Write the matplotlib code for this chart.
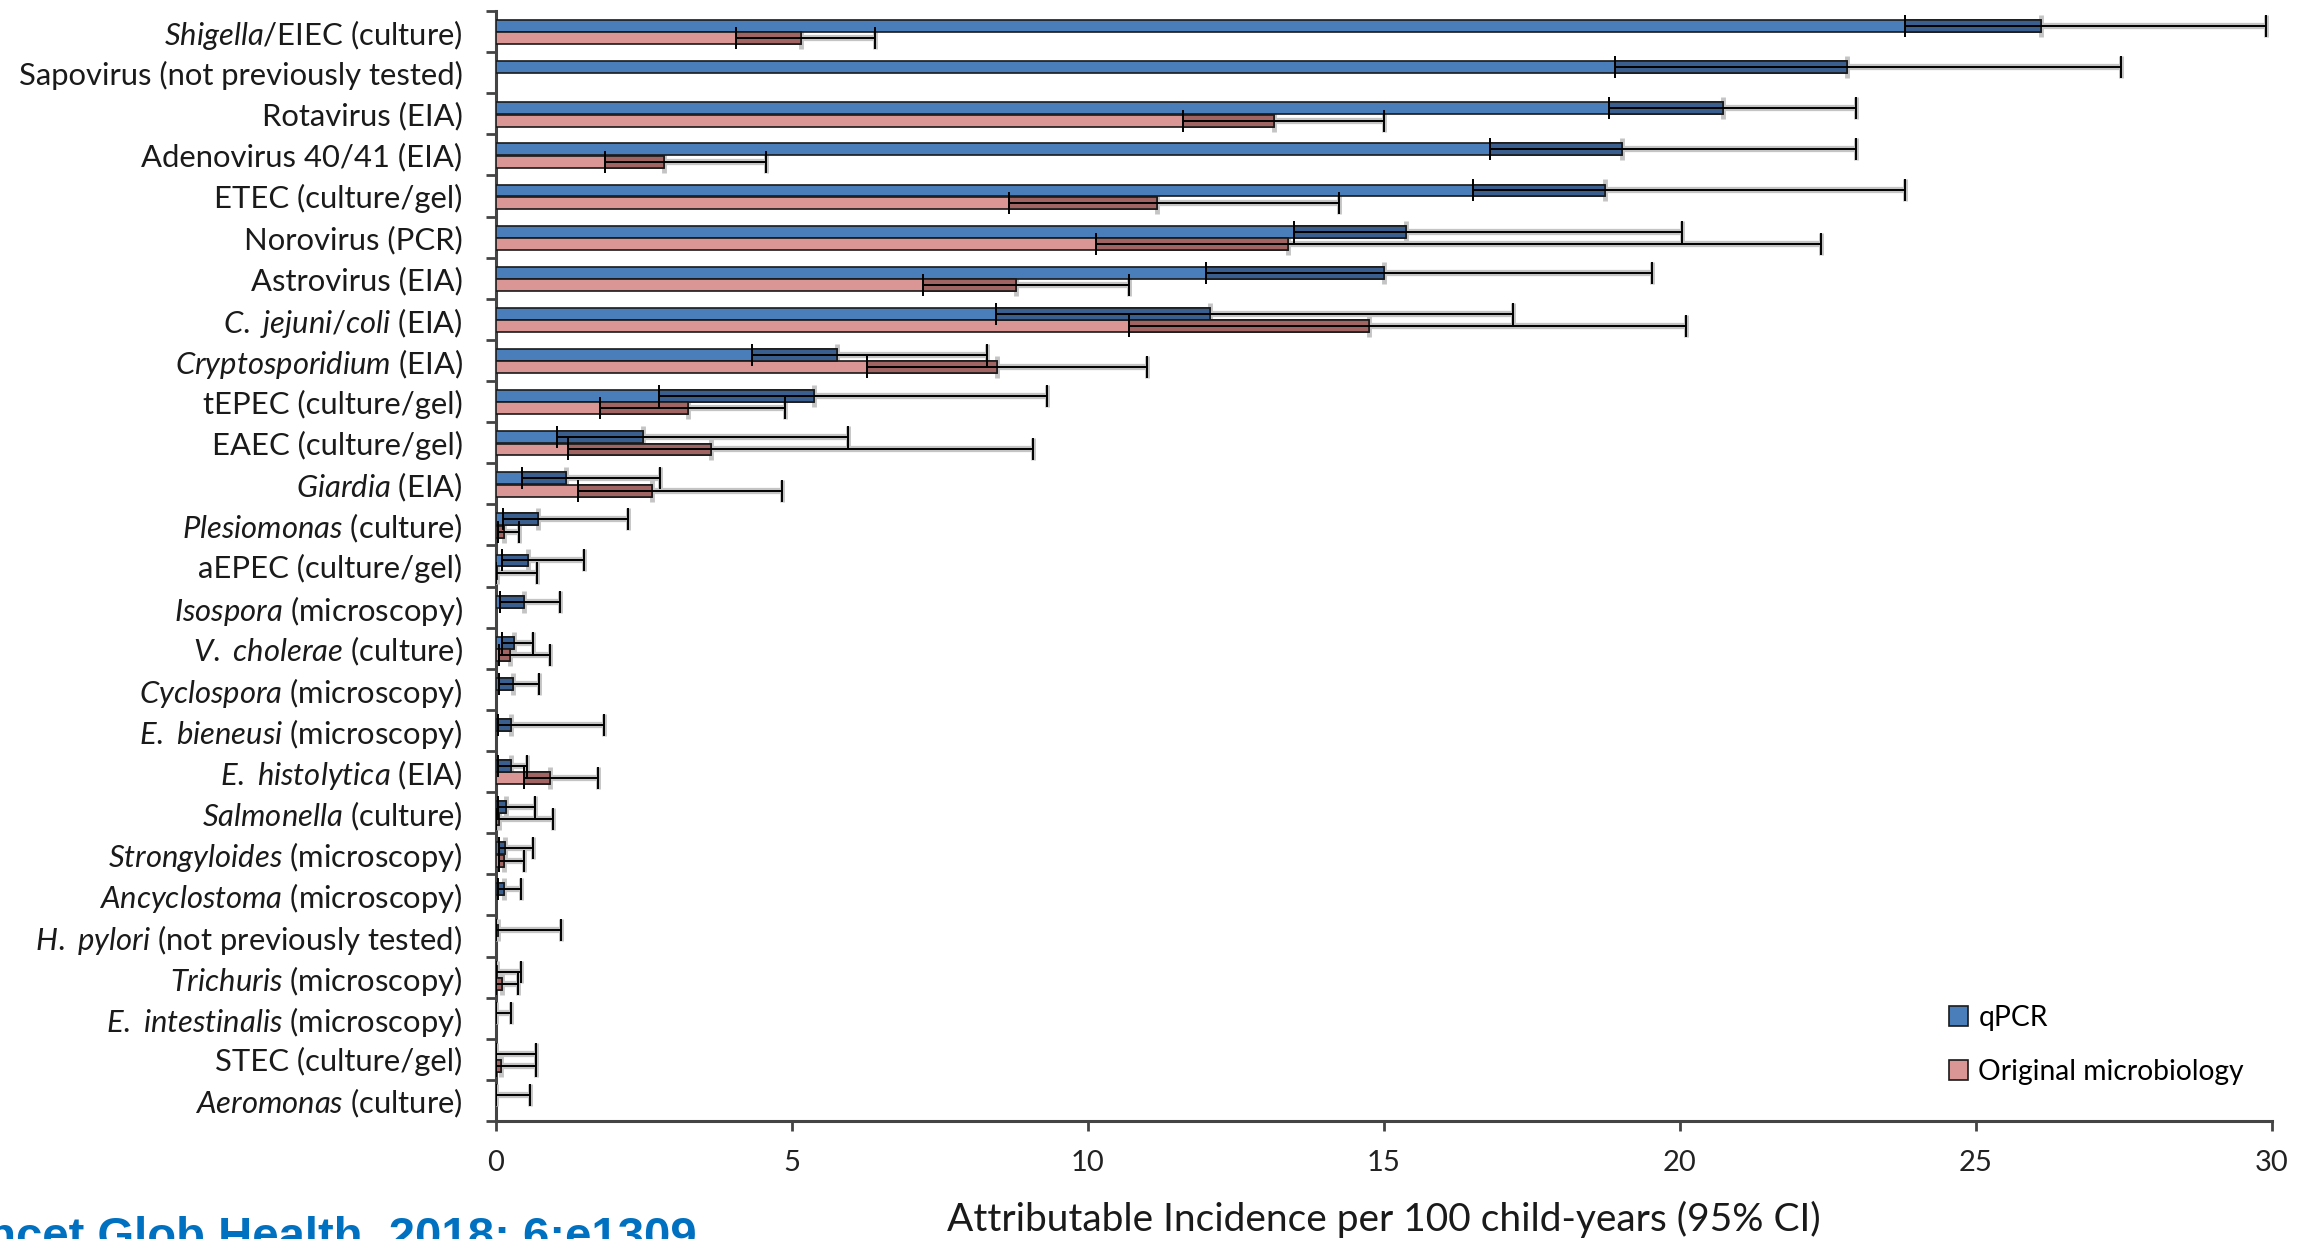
import numpy as np
import matplotlib
matplotlib.use("Agg")
import matplotlib.pyplot as plt
from matplotlib.patches import Patch

plt.rcParams['font.family'] = ['Lato', 'DejaVu Sans']
plt.rcParams['mathtext.fontset'] = 'custom'
plt.rcParams['mathtext.rm'] = 'Lato'
plt.rcParams['mathtext.it'] = 'Lato:italic'

categories = [
    r"$\mathit{Shigella}$/EIEC (culture)",
    "Sapovirus (not previously tested)",
    "Rotavirus (EIA)",
    "Adenovirus 40/41 (EIA)",
    "ETEC (culture/gel)",
    "Norovirus (PCR)",
    "Astrovirus (EIA)",
    r"$\mathit{C.\ jejuni/coli}$ (EIA)",
    r"$\mathit{Cryptosporidium}$ (EIA)",
    "tEPEC (culture/gel)",
    "EAEC (culture/gel)",
    r"$\mathit{Giardia}$ (EIA)",
    r"$\mathit{Plesiomonas}$ (culture)",
    "aEPEC (culture/gel)",
    r"$\mathit{Isospora}$ (microscopy)",
    r"$\mathit{V.\ cholerae}$ (culture)",
    r"$\mathit{Cyclospora}$ (microscopy)",
    r"$\mathit{E.\ bieneusi}$ (microscopy)",
    r"$\mathit{E.\ histolytica}$ (EIA)",
    r"$\mathit{Salmonella}$ (culture)",
    r"$\mathit{Strongyloides}$ (microscopy)",
    r"$\mathit{Ancyclostoma}$ (microscopy)",
    r"$\mathit{H.\ pylori}$ (not previously tested)",
    r"$\mathit{Trichuris}$ (microscopy)",
    r"$\mathit{E.\ intestinalis}$ (microscopy)",
    "STEC (culture/gel)",
    r"$\mathit{Aeromonas}$ (culture)",
]

nan = np.nan
qpcr_lo = [23.8, 18.9, 18.8, 16.8, 16.5, 13.48, 12.0, 8.45, 4.32, 2.76, 1.04, 0.44, 0.12, 0.10,
           0.07, 0.10, 0.05, 0.03, 0.03, 0.03, 0.05, 0.03, 0.0, 0.0, 0.0, 0.0, 0.0]
qpcr_est = [26.1, 22.83, 20.73, 19.03, 18.73, 15.38, 15.0, 12.07, 5.77, 5.38, 2.49, 1.18, 0.71, 0.55,
            0.47, 0.31, 0.29, 0.26, 0.26, 0.17, 0.15, 0.14, 0.04, 0.02, 0.0, 0.0, 0.0]
qpcr_hi = [29.9, 27.45, 22.98, 22.97, 23.8, 20.04, 19.53, 17.18, 8.29, 9.31, 5.94, 2.78, 2.23, 1.48,
           1.09, 0.62, 0.73, 1.83, 0.52, 0.66, 0.62, 0.43, 1.10, 0.42, 0.25, 0.67, 0.58]

orig_lo = [4.05, nan, 11.6, 1.84, 8.67, 10.13, 7.22, 10.69, 6.27, 1.75, 1.21, 1.39, 0.03, 0.0,
           nan, 0.05, nan, nan, 0.48, 0.0, 0.05, nan, nan, 0.0, nan, 0.0, nan]
orig_est = [5.16, nan, 13.14, 2.84, 11.17, 13.38, 8.78, 14.75, 8.46, 3.25, 3.64, 2.64, 0.13, 0.02,
            nan, 0.24, nan, nan, 0.92, 0.06, 0.14, nan, nan, 0.10, nan, 0.08, nan]
orig_hi = [6.40, nan, 15.0, 4.57, 14.24, 22.38, 10.69, 20.1, 11.0, 4.88, 9.07, 4.84, 0.39, 0.70,
           nan, 0.91, nan, nan, 1.72, 0.96, 0.47, nan, nan, 0.38, nan, 0.67, nan]

series_names = ["qPCR", "Original microbiology"]
x_ticks = [0, 5, 10, 15, 20, 25, 30]

blue_light, blue_dark = "#4A7EBB", "#3A5F8E"
pink_light, pink_dark = "#D99694", "#A06462"

fig = plt.figure(figsize=(23.13, 12.39), dpi=100)
ax = fig.add_axes([0.2144, 0.0952, 0.7678, 0.8959])

y = np.arange(len(categories))
h = 0.29
off_q, off_o = -0.135, 0.165


def draw_series(lo, est, hi, yy, light, dark, z):
    lo = np.asarray(lo, float); est = np.asarray(est, float); hi = np.asarray(hi, float)
    m = ~np.isnan(est)
    lo, est, hi, yy = lo[m], est[m], hi[m], yy[m]
    ax.barh(yy, est, height=h, color=light, edgecolor="#1a1a1a", linewidth=1.2, zorder=z)
    ax.barh(yy, est - lo, left=lo, height=h, color=dark, edgecolor="#1a1a1a", linewidth=1.2, zorder=z + 0.1)
    # soft grey halo on the upper whisker only
    ax.errorbar(est, yy, xerr=[np.zeros_like(est), hi - est], fmt="none", ecolor="#c4c4c4",
                elinewidth=4.5, capsize=8, capthick=3.5, zorder=z - 0.1)
    ax.errorbar(est, yy, xerr=[est - lo, hi - est], fmt="none", ecolor="black",
                elinewidth=1.4, capsize=8, capthick=1.4, zorder=z + 0.3)


draw_series(qpcr_lo, qpcr_est, qpcr_hi, y + off_q, blue_light, blue_dark, 3)
draw_series(orig_lo, orig_est, orig_hi, y + off_o, pink_light, pink_dark, 3)

ax.set_xlim(0, 30)
ax.set_ylim(len(categories) - 0.5, -0.5)
ax.set_xticks(x_ticks)
ax.set_xticklabels([str(t) for t in x_ticks], fontsize=21, color="#222222")
ax.tick_params(axis="x", direction="out", length=7, width=2, color="#444444", pad=14)

ax.set_yticks(np.arange(-0.5, len(categories), 1.0))
ax.set_yticklabels([])
ax.tick_params(axis="y", which="major", direction="out", length=7, width=2, color="#444444")
ax.set_yticks(y, minor=True)
ax.set_yticklabels(categories, minor=True, fontsize=22.3, color="#1a1a1a")
ax.tick_params(axis="y", which="minor", length=0, pad=24)

for s in ["top", "right"]:
    ax.spines[s].set_visible(False)
for s in ["left", "bottom"]:
    ax.spines[s].set_color("#444444")
    ax.spines[s].set_linewidth(2.2)

ax.set_xlabel("Attributable Incidence per 100 child-years (95% CI)", fontsize=28,
              color="#1a1a1a", labelpad=18)

handles = [Patch(facecolor=blue_light, edgecolor="#1a1a1a", linewidth=1.2),
           Patch(facecolor=pink_light, edgecolor="#1a1a1a", linewidth=1.2)]
fig.legend(handles, series_names, loc="upper left", bbox_to_anchor=(0.8425, 0.189),
           frameon=False, fontsize=20.3, handlelength=0.7, handleheight=0.7,
           handletextpad=0.35, labelspacing=1.0, borderpad=0, borderaxespad=0)

fig.text(0.301, -0.009, "Lancet Glob Health. 2018; 6:e1309", ha="right", va="baseline",
         fontsize=34, fontweight="bold", color="#0070C0", family="Liberation Sans")

fig.savefig("out.png", dpi=100)
